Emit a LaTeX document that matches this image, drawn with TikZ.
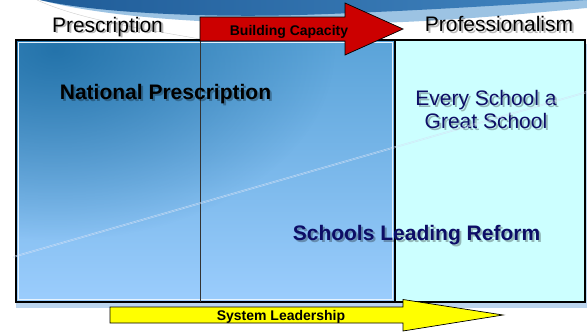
\documentclass[tikz,border=0pt]{standalone}
\usepackage{fontspec}
\setmainfont{Liberation Sans}
\usetikzlibrary{calc,fadings}

\definecolor{swdark}{HTML}{1F5C98}
\definecolor{swmid}{HTML}{4285C0}
\definecolor{swlight}{HTML}{9CC3E3}
\definecolor{paneltop}{HTML}{5AA3D8}
\definecolor{panelbot}{HTML}{9BCDFD}
\definecolor{panelglow}{HTML}{16679F}
\definecolor{boxcyan}{HTML}{CCFFFF}
\definecolor{navy}{HTML}{0D0D66}
\definecolor{capred}{HTML}{CC0000}
\definecolor{leadyellow}{HTML}{FFFF00}
\definecolor{frameshadow}{HTML}{BCD5EE}
\definecolor{divider}{HTML}{333333}
\definecolor{rulecol}{HTML}{D4E2F6}

\tikzfading[name=glowfade, inner color=transparent!0, outer color=transparent!100]

% text with a soft drop shadow: name, position, style, text
\newcommand\softlabel[4]{%
  \node[#3, text=black, opacity=0.28] at ($(#2)+(2,2)$) {#4};%
  \node[#3] (#1) at (#2) {#4};}

\begin{document}
\begin{tikzpicture}[x=1pt,y=-1pt,
  lbl/.style={inner sep=0pt, anchor=base, font=\fontsize{21}{25}\selectfont},
  boldlbl/.style={inner sep=0pt, anchor=base, font=\fontsize{21}{25}\selectfont\bfseries},
  arrowlbl/.style={inner sep=0pt, anchor=base, font=\fontsize{14}{16}\selectfont\bfseries},
  arrowshape/.style={draw=black, line width=0.7pt, line join=miter},
  rule/.style={rulecol, opacity=0.8, line width=0.45pt},
]
\useasboundingbox (0,0) rectangle (587,332);

% header swoosh
\fill[swlight] (40,0) .. controls (100,16) and (200,24) .. (310,24)
  .. controls (430,24) and (520,14) .. (587,8) -- (587,0) -- cycle;
\shade[left color=swdark, right color=swmid] (40,0) .. controls (90,12) and (200,18) .. (300,15)
  .. controls (420,11) and (520,4) .. (587,0) -- cycle;
\draw[black!20, line width=0.4pt] (37,0) .. controls (80,20) and (150,30) .. (200,39);

% frame shadow
\fill[frameshadow] (16,44) rectangle (589,308);

% left panel with its gradient
\shade[top color=paneltop, bottom color=panelbot] (16,40) rectangle (395,302);
\begin{scope}
  \clip (16,40) rectangle (395,302);
  \fill[panelglow, path fading=glowfade, fill opacity=0.8] (55,50) ellipse [x radius=280, y radius=190];
\end{scope}
\draw[white!75!panelbot, line width=0.8pt] (18.5,42.5) rectangle (392.5,299.5);
\draw[black, line width=2pt] (16,40) rectangle (395,302);
\draw[divider, line width=0.8pt] (200,40) -- (200,302);

% right box
\draw[black, line width=2.4pt, fill=boxcyan] (395,40) rectangle (585,302);

% labels
\softlabel{presc}{107.5,32}{lbl}{Prescription}
\softlabel{prof}{499,31}{lbl}{Professionalism}
\softlabel{natpresc}{165.5,99}{boldlbl}{National Prescription}
\softlabel{every}{486,105}{lbl, text=navy}{Every School a}
\softlabel{great}{486,128.3}{lbl, text=navy}{Great School}
\softlabel{slr}{416.5,240}{boldlbl, text=navy}{Schools Leading Reform}

% faint diagonal double rule
\draw[rule] (13,256.4) -- (587,91.4);
\draw[rule] (13,257.6) -- (587,92.6);

% Building Capacity arrow
\filldraw[arrowshape, fill=capred] (200,17) -- (345,17) -- (345,3) -- (403,29)
  -- (345,55) -- (345,41) -- (200,41) -- cycle;
\node[arrowlbl] (build) at (289,35) {Building Capacity};

% System Leadership arrow
\filldraw[arrowshape, fill=leadyellow] (110,307) -- (403,307) -- (403,299.5) -- (503,315)
  -- (403,331) -- (403,323) -- (110,323) -- cycle;
\node[arrowlbl] (lead) at (281,320.5) {System Leadership};
\end{tikzpicture}
\end{document}
